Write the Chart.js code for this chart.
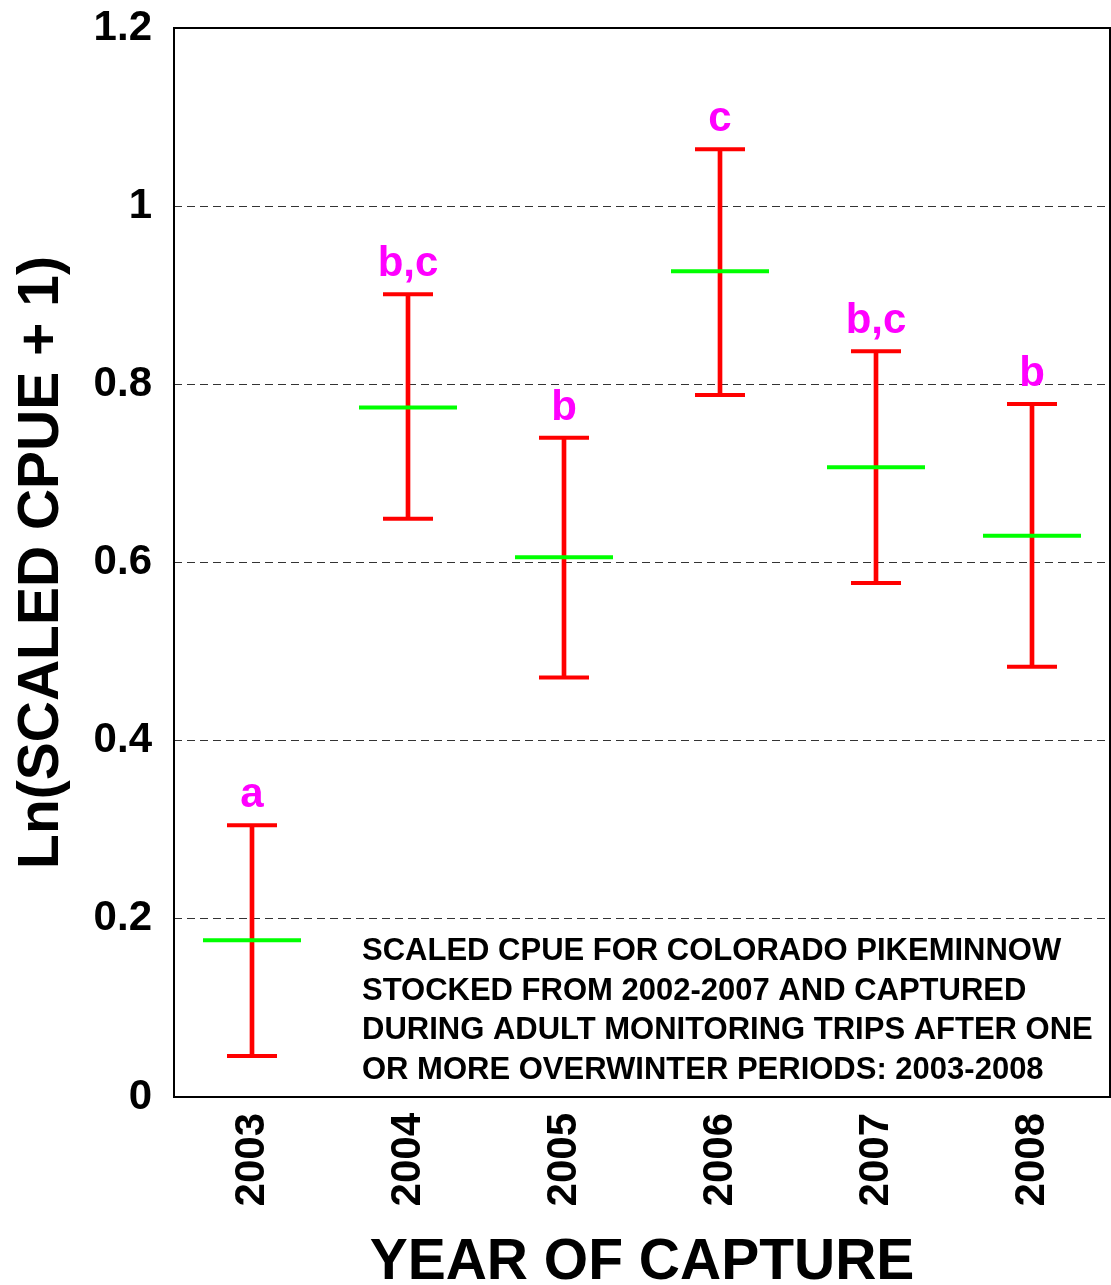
<!DOCTYPE html>
<html>
<head>
<meta charset="utf-8">
<script src="https://cdn.jsdelivr.net/npm/chart.js@4/dist/chart.umd.min.js"></script>
<style>
  body { margin: 0; background: #fff; }
  #wrap { width: 1111px; height: 1285px; position: relative; }
</style>
</head>
<body>
<div id="wrap"><canvas id="myChart"></canvas></div>
<script>
var years = ["2003", "2004", "2005", "2006", "2007", "2008"];
var means = [0.176, 0.774, 0.606, 0.927, 0.707, 0.630];
var upper = [0.305, 0.901, 0.740, 1.064, 0.837, 0.778];
var lower = [0.046, 0.649, 0.471, 0.788, 0.577, 0.483];
var groups = ["a", "b,c", "b", "c", "b,c", "b"];
var yTicks = ["0", "0.2", "0.4", "0.6", "0.8", "1", "1.2"];
var note = [
  "SCALED CPUE FOR COLORADO PIKEMINNOW",
  "STOCKED FROM 2002-2007 AND CAPTURED",
  "DURING ADULT MONITORING TRIPS AFTER ONE",
  "OR MORE OVERWINTER PERIODS: 2003-2008"
];

var FONT = "'Liberation Sans', Arial, sans-serif";

// box round the plot, group letters and the note
var extras = {
  id: "extras",
  afterDraw: function (chart) {
    var ctx = chart.ctx, a = chart.chartArea;
    var x = chart.scales.x, y = chart.scales.y;
    ctx.save();
    ctx.strokeStyle = "#000";
    ctx.lineWidth = 2;
    ctx.strokeRect(a.left, a.top, a.right - a.left, a.bottom - a.top);

    ctx.fillStyle = "#ff00ff";
    ctx.font = "bold 42px " + FONT;
    ctx.textAlign = "center";
    ctx.textBaseline = "alphabetic";
    groups.forEach(function (g, i) {
      ctx.fillText(g, x.getPixelForValue(i), y.getPixelForValue(upper[i]) - 18);
    });

    ctx.fillStyle = "#000";
    ctx.font = "bold 31px " + FONT;
    ctx.textAlign = "left";
    note.forEach(function (t, i) {
      ctx.fillText(t, 362, 960 + i * 39.5, 740);
    });
    ctx.restore();
  }
};

new Chart("myChart", {
  type: "bar",
  data: {
    labels: years,
    datasets: [
      {
        // error bar stem
        type: "bar",
        data: years.map(function (_, i) { return [lower[i], upper[i]]; }),
        backgroundColor: "#ff0000",
        barThickness: 4,
        order: 3
      },
      {
        type: "line",
        data: upper,
        showLine: false,
        pointStyle: "line",
        pointRadius: 25,
        pointHoverRadius: 25,
        borderColor: "#ff0000",
        borderWidth: 4,
        order: 2
      },
      {
        type: "line",
        data: lower,
        showLine: false,
        pointStyle: "line",
        pointRadius: 25,
        pointHoverRadius: 25,
        borderColor: "#ff0000",
        borderWidth: 4,
        order: 2
      },
      {
        type: "line",
        data: means,
        showLine: false,
        pointStyle: "line",
        pointRadius: 49,
        pointHoverRadius: 49,
        borderColor: "#00ff00",
        borderWidth: 4,
        order: 1
      }
    ]
  },
  options: {
    responsive: true,
    maintainAspectRatio: false,
    animation: false,
    events: [],
    layout: { autoPadding: false, padding: { top: 28, right: 1, left: 0, bottom: 0 } },
    plugins: {
      legend: { display: false },
      tooltip: { enabled: false }
    },
    scales: {
      x: {
        afterFit: function (s) {
          s.height = 188;
          s.paddingLeft = 0;
          s.paddingRight = 0;
        },
        grid: { display: false, drawTicks: false },
        border: { display: false },
        ticks: {
          minRotation: 90,
          maxRotation: 90,
          padding: 16,
          color: "#000",
          font: { family: FONT, size: 42, weight: "bold" }
        },
        title: {
          display: true,
          text: "YEAR OF CAPTURE",
          color: "#000",
          font: { family: FONT, size: 57, weight: "bold", lineHeight: 1.2 },
          padding: { top: 0, bottom: -12 }
        }
      },
      y: {
        min: 0,
        max: 1.2,
        afterFit: function (s) {
          s.width = 174;
          s.paddingTop = 0;
          s.paddingBottom = 0;
        },
        border: { display: false, dash: [8, 5] },
        grid: {
          drawTicks: false,
          lineWidth: 1,
          color: function (c) {
            return (c.index === 0 || c.index === yTicks.length - 1) ? "rgba(0,0,0,0)" : "#333";
          }
        },
        ticks: {
          stepSize: 0.2,
          padding: 22,
          color: "#000",
          font: { family: FONT, size: 42, weight: "bold" },
          callback: function (v, i) { return yTicks[i]; }
        },
        title: {
          display: true,
          text: "Ln(SCALED CPUE + 1)",
          color: "#000",
          font: { family: FONT, size: 57, weight: "bold", lineHeight: 1.2 },
          padding: { top: 8, bottom: 0 }
        }
      }
    }
  },
  plugins: [extras]
});
</script>
</body>
</html>
